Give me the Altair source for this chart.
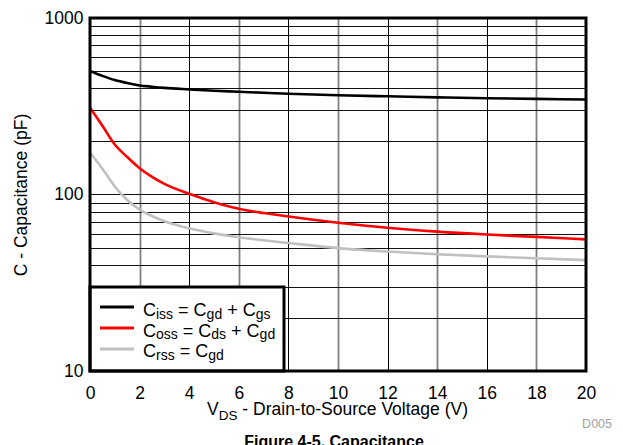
import altair as alt
import pandas as pd

# ---- data ----
V = [0, 0.5, 1, 1.5, 2, 2.5, 3, 4, 5, 6, 7, 8, 10, 12, 14, 16, 18, 20]
CISS = [501, 470, 445, 428, 415, 408, 402, 394, 387, 382, 377, 372, 365, 360, 355, 351, 348, 345]
COSS = [310, 245, 192, 163, 141, 126, 115, 101, 90.5, 83, 78.5, 75, 69.2, 64.8, 61.6, 59.3, 57.5, 55.7]
CRSS = [173, 140, 111, 93, 82, 75.5, 70.5, 64.3, 60.2, 57.2, 55, 53.1, 49.7, 47.5, 45.9, 44.6, 43.5, 42.5]
SERIES = ["Ciss", "Coss", "Crss"]
COLORS = ["#000000", "#ff0000", "#c0c0c0"]
X_TICKS = [0, 2, 4, 6, 8, 10, 12, 14, 16, 18, 20]
Y_GRID = [10, 20, 30, 40, 50, 60, 70, 80, 90,
          100, 200, 300, 400, 500, 600, 700, 800, 900, 1000]
Y_LABELS = [10, 100, 1000]
LEGEND_TEXT = [
    [("C", 0), ("iss", 1), (" = C", 0), ("gd", 1), (" + C", 0), ("gs", 1)],
    [("C", 0), ("oss", 1), (" = C", 0), ("ds", 1), (" + C", 0), ("gd", 1)],
    [("C", 0), ("rss", 1), (" = C", 0), ("gd", 1)],
]
X_TITLE = [("V", 0), ("DS", 1), (" - Drain-to-Source Voltage (V)", 0)]
Y_TITLE = "C - Capacitance (pF)"
FIG_TITLE = "Figure 4-5. Capacitance"
CODE = "D005"

FONT = "Liberation Sans"
W, H = 496, 353

# Arial / Liberation Sans advance widths (per 1000 em)
AW = {" ": 278, "-": 333, "=": 584, "+": 584, "(": 333, ")": 333,
      "C": 722, "D": 722, "S": 667, "V": 667,
      "a": 556, "c": 500, "d": 556, "e": 556, "g": 556, "i": 222, "l": 222,
      "n": 556, "o": 556, "r": 333, "s": 500, "t": 278, "u": 556}


def tw(s, size):
    return sum(AW.get(ch, 556) for ch in s) * size / 1000.0


def pieces(segs, x0, y0, main, sub, drop, color="black"):
    """Draw rich text as separate pieces; boundary spaces only advance the pen."""
    out = []
    x = x0
    for txt, is_sub in segs:
        fs = sub if is_sub else main
        core = txt.strip(" ")
        lead = len(txt) - len(txt.lstrip(" "))
        trail = len(txt) - len(txt.rstrip(" "))
        x += tw(" " * lead, fs)
        out.append(
            alt.Chart(pd.DataFrame({"t": [core]}))
            .mark_text(align="left", baseline="alphabetic", font=FONT,
                       fontSize=fs, color=color)
            .encode(text="t:N", x=alt.value(x), y=alt.value(y0 + (drop if is_sub else 0)))
        )
        x += tw(core, fs) + tw(" " * trail, fs)
    return out


rows = []
for name, vals in zip(SERIES, [CISS, COSS, CRSS]):
    for v, c in zip(V, vals):
        rows.append({"V": v, "C": c, "series": name})
df = pd.DataFrame(rows)

label_expr = "indexof([%s], datum.value) >= 0 ? format(datum.value, 'd') : ''" % ",".join(
    str(v) for v in Y_LABELS)

lines = alt.Chart(df).mark_line(strokeWidth=2.6, interpolate="monotone").encode(
    x=alt.X("V:Q", scale=alt.Scale(domain=[0, 20], nice=False, zero=False),
            axis=alt.Axis(values=X_TICKS, grid=True, ticks=False, domain=False,
                          title=None, labelFontSize=17.5, labelPadding=13,
                          labelFlush=False, labelOverlap=False,
                          gridColor=alt.condition("datum.value % 4 == 0",
                                                  alt.value("#000000"), alt.value("#808080")),
                          gridWidth=alt.condition("datum.value % 4 == 0",
                                                  alt.value(1), alt.value(1.8)))),
    y=alt.Y("C:Q", scale=alt.Scale(type="log", domain=[10, 1000], nice=False),
            axis=alt.Axis(values=Y_GRID, grid=True, ticks=False, domain=False,
                          title=Y_TITLE, titleFontSize=17.5, titleFontWeight="normal",
                          titlePadding=14, labelFontSize=17.5, labelPadding=7,
                          labelExpr=label_expr, labelOverlap=False, labelFlush=False,
                          gridColor="#111111", gridWidth=1)),
    color=alt.Color("series:N", scale=alt.Scale(domain=SERIES, range=COLORS), legend=None),
)

one = pd.DataFrame({"a": [0]})
legend_box = alt.Chart(one).mark_rect(fill="white", stroke="black", strokeWidth=3).encode(
    x=alt.value(0), x2=alt.value(194), y=alt.value(269), y2=alt.value(H))

layers = [lines, legend_box]
LEG_LINE_Y = [289, 310, 331]
LEG_TEXT_Y = [298, 318.5, 339]
for i, (col, ly, ty) in enumerate(zip(COLORS, LEG_LINE_Y, LEG_TEXT_Y)):
    layers.append(alt.Chart(one).mark_rule(color=col, strokeWidth=2.8).encode(
        x=alt.value(10), x2=alt.value(44), y=alt.value(ly)))
    layers += pieces(LEGEND_TEXT[i], 53, ty, 18, 14, 2.5)

# x-axis title with subscript, centred under the plot
xt_w = sum(tw(t, 13.5 if s else 17.5) for t, s in X_TITLE)
layers += pieces(X_TITLE, W / 2 - xt_w / 2, 397, 17.5, 13.5, 5)

layers.append(alt.Chart(pd.DataFrame({"t": [CODE]})).mark_text(
    align="right", baseline="alphabetic", font=FONT, fontSize=12.5, color="#a0a0a0").encode(
    text="t:N", x=alt.value(522), y=alt.value(410)))
layers.append(alt.Chart(pd.DataFrame({"t": [FIG_TITLE]})).mark_text(
    align="center", baseline="top", font=FONT, fontSize=16, fontWeight="bold", color="black").encode(
    text="t:N", x=alt.value(244), y=alt.value(416)))

frame = alt.Chart(one).mark_rect(fill=None, stroke="black", strokeWidth=3).encode(
    x=alt.value(0), x2=alt.value(W), y=alt.value(0), y2=alt.value(H))
layers.append(frame)

chart = alt.layer(*layers).properties(
    width=W, height=H,
    autosize=alt.AutoSizeParams(type="none"),
    padding={"left": 90, "top": 18, "right": 37, "bottom": 74},
).configure(font=FONT).configure_view(stroke=None).configure_axis(
    labelColor="black", titleColor="black", labelFont=FONT, titleFont=FONT)

chart.save("out.html", embed_options={"renderer": "svg", "actions": False})
